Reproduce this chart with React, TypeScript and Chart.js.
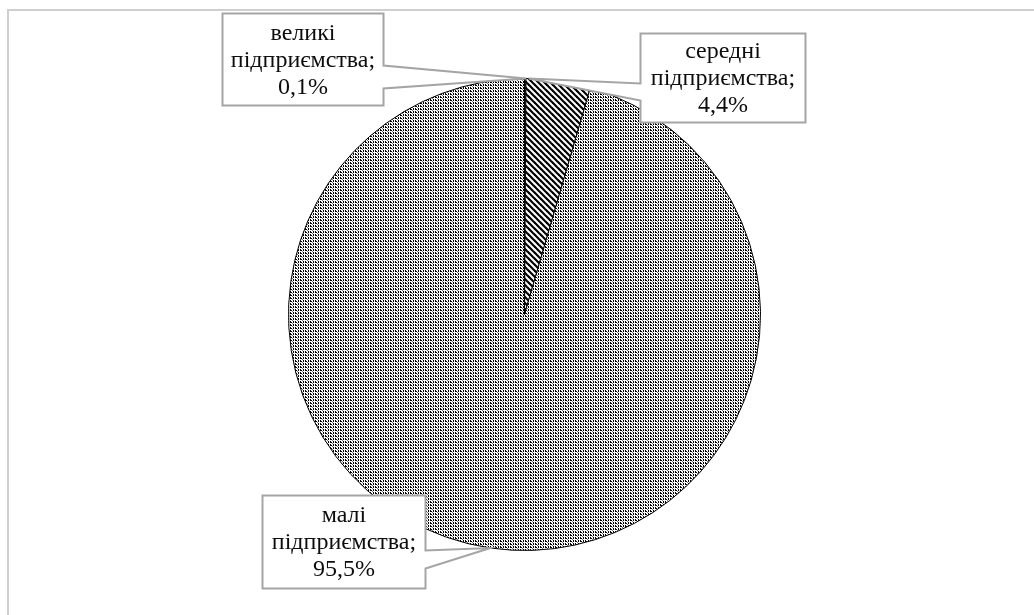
import React, { useEffect, useRef } from "react";
import { Chart, registerables } from "chart.js";

Chart.register(...registerables);

// ---- data ----
const categoryWords = ["великі", "середні", "малі"];
const categoryNoun = "підприємства;";
const shares = [0.1, 4.4, 95.5];

// ---- callout layout (relative to pie centre) ----
const calloutBoxes = [
  { dx: -302, dy: -301, w: 161, h: 92, side: "right", b0: 52, b1: 75, tipDeg: -89.6 },
  { dx: 116, dy: -281, w: 165, h: 89, side: "left", b0: 50, b1: 67, tipDeg: -89.0 },
  { dx: -262, dy: 181, w: 163, h: 93, side: "right", b0: 55, b1: 73, tipDeg: 98.3 },
];

function makeDots(): CanvasPattern {
  const c = document.createElement("canvas");
  c.width = 5;
  c.height = 3;
  const g = c.getContext("2d")!;
  g.fillStyle = "#ffffff";
  g.fillRect(0, 0, 5, 3);
  g.fillStyle = "#000000";
  g.fillRect(0, 0, 1, 2);
  g.fillRect(1, 1, 1, 1);
  g.fillRect(3, 0, 1, 2);
  g.fillStyle = "#777777";
  g.fillRect(2, 2, 1, 1);
  return g.createPattern(c, "repeat")!;
}

function makeHatch(): CanvasPattern {
  const c = document.createElement("canvas");
  c.width = 6;
  c.height = 6;
  const g = c.getContext("2d")!;
  g.fillStyle = "#ffffff";
  g.fillRect(0, 0, 6, 6);
  g.strokeStyle = "#000000";
  g.lineWidth = 2.2;
  for (const x0 of [-6, 0, 6]) {
    g.beginPath();
    g.moveTo(x0 - 1, -1);
    g.lineTo(x0 + 7, 7);
    g.stroke();
  }
  return g.createPattern(c, "repeat")!;
}

const calloutPlugin = {
  id: "callouts",
  afterDatasetsDraw(chart: any) {
    const meta = chart.getDatasetMeta(0);
    const arc = meta.data[0];
    if (!arc) return;
    const { x: cx, y: cy, outerRadius: R } = arc.getProps(["x", "y", "outerRadius"], true);
    const ctx: CanvasRenderingContext2D = chart.ctx;
    ctx.save();
    calloutBoxes.forEach((b, i) => {
      const x = cx + b.dx;
      const y = cy + b.dy;
      const a = (b.tipDeg * Math.PI) / 180;
      const tx = cx + R * Math.cos(a);
      const ty = cy + R * Math.sin(a);
      ctx.beginPath();
      if (b.side === "right") {
        ctx.moveTo(x, y);
        ctx.lineTo(x + b.w, y);
        ctx.lineTo(x + b.w, y + b.b0);
        ctx.lineTo(tx, ty);
        ctx.lineTo(x + b.w, y + b.b1);
        ctx.lineTo(x + b.w, y + b.h);
        ctx.lineTo(x, y + b.h);
      } else {
        ctx.moveTo(x, y);
        ctx.lineTo(x + b.w, y);
        ctx.lineTo(x + b.w, y + b.h);
        ctx.lineTo(x, y + b.h);
        ctx.lineTo(x, y + b.b1);
        ctx.lineTo(tx, ty);
        ctx.lineTo(x, y + b.b0);
      }
      ctx.closePath();
      ctx.fillStyle = "#ffffff";
      ctx.fill();
      ctx.strokeStyle = "#a5a5a5";
      ctx.lineWidth = 2;
      ctx.lineJoin = "miter";
      ctx.stroke();

      const lines = [
        categoryWords[i],
        categoryNoun,
        shares[i].toFixed(1).replace(".", ",") + "%",
      ];
      ctx.fillStyle = "#0d0d0d";
      ctx.font = '24px "Liberation Serif", "Times New Roman", serif';
      ctx.textAlign = "center";
      ctx.textBaseline = "middle";
      lines.forEach((t, k) => {
        ctx.fillText(t, x + b.w / 2, y + b.h / 2 + 1 + (k - 1) * 27);
      });
    });
    ctx.restore();
  },
};

export default function App() {
  const ref = useRef<HTMLCanvasElement | null>(null);
  useEffect(() => {
    if (!ref.current) return;
    const dots = makeDots();
    const hatch = makeHatch();
    const chart = new Chart(ref.current, {
      type: "pie",
      data: {
        labels: categoryWords.map((w) => w + " " + categoryNoun),
        datasets: [
          {
            data: shares,
            backgroundColor: [dots, hatch, dots] as any,
            borderColor: "#000000",
            borderWidth: 1,
          },
        ],
      },
      options: {
        responsive: false,
        animation: false,
        devicePixelRatio: 1,
        layout: { padding: { left: 288, right: 273, top: 78, bottom: 64 } },
        plugins: {
          legend: { display: false },
          tooltip: { enabled: false },
        },
      },
      plugins: [calloutPlugin],
    });
    return () => chart.destroy();
  }, []);
  return (
    <div style={{ position: "fixed", left: 0, top: 0, width: 1034, height: 615, background: "#fff", overflow: "hidden" }}>
      <div
        style={{
          position: "absolute",
          left: 7,
          top: 9,
          width: 1040,
          height: 620,
          borderTop: "2px solid #cfcfcf",
          borderLeft: "2px solid #cfcfcf",
        }}
      />
      <canvas ref={ref} width={1034} height={615} style={{ position: "absolute", left: 0, top: 0 }} />
    </div>
  );
}
